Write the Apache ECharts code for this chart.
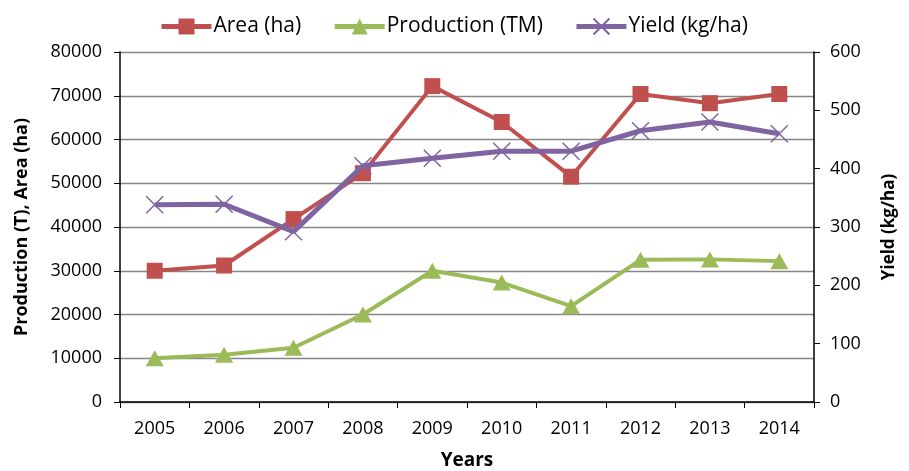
<!DOCTYPE html>
<html><head><meta charset="utf-8">
<script src="https://cdn.jsdelivr.net/npm/echarts@6/dist/echarts.min.js"></script>
<style>html,body{margin:0;padding:0;background:#fff}#c{width:909px;height:471px}</style>
</head><body><div id="c"></div>
<script>
const years = ['2005','2006','2007','2008','2009','2010','2011','2012','2013','2014'];
const area = [30000, 31200, 41800, 52300, 72200, 64000, 51500, 70400, 68300, 70400];
const production = [10000, 10800, 12400, 20000, 30000, 27300, 21900, 32500, 32600, 32200];
const yieldKg = [338, 339, 292, 405, 418, 430, 430, 465, 480, 460];

const font = '"Open Sans", Lato, sans-serif';
const chart = echarts.init(document.getElementById('c'), null, {renderer:'canvas'});
chart.setOption({
  animation: false,
  textStyle: {fontFamily: font, color: '#000'},
  legend: {
    top: 11, left: 154, itemWidth: 50, itemHeight: 20, itemGap: 31,
    lineStyle: {width: 5},
    textStyle: {fontSize: 21, fontFamily: font, color: '#000', padding: [0, 0, 0, -3]},
    data: ['Area (ha)', 'Production (TM)', 'Yield (kg/ha)']
  },
  grid: {left: 120, right: 95, top: 52, bottom: 69, outerBoundsMode: 'none', containLabel: false},
  xAxis: {
    type: 'category', data: years, boundaryGap: true,
    name: 'Years', nameLocation: 'middle', nameGap: 49,
    nameTextStyle: {fontSize: 19, fontWeight: 'bold', fontFamily: font, color: '#000'},
    axisLine: {lineStyle: {color: '#000', width: 1.5}},
    axisTick: {show: true, alignWithLabel: false, length: 6, lineStyle: {color: '#000'}},
    axisLabel: {fontSize: 18, color: '#000', margin: 18, fontFamily: font}
  },
  yAxis: [
    {
      type: 'value', min: 0, max: 80000, interval: 10000,
      name: 'Production (T), Area (ha)', nameLocation: 'middle', nameGap: 89,
      nameTextStyle: {fontSize: 18, fontWeight: 'bold', fontFamily: font, color: '#000'},
      axisLine: {show: true, lineStyle: {color: '#000', width: 1.5}},
      axisTick: {show: true, length: 6, lineStyle: {color: '#000'}},
      axisLabel: {fontSize: 18, color: '#000', margin: 18, fontFamily: font, formatter: v => String(v)},
      splitLine: {show: true, lineStyle: {color: '#868686', width: 1.3}}
    },
    {
      type: 'value', min: 0, max: 600, interval: 100, position: 'right',
      name: 'Yield (kg/ha)', nameLocation: 'middle', nameGap: 67, nameRotate: 90,
      nameTextStyle: {fontSize: 17, fontWeight: 'bold', fontFamily: font, color: '#000'},
      axisLine: {show: true, lineStyle: {color: '#000', width: 1.5}},
      axisTick: {show: true, length: 6, lineStyle: {color: '#000'}},
      axisLabel: {fontSize: 18, color: '#000', margin: 16, fontFamily: font},
      splitLine: {show: false}
    }
  ],
  series: [
    {
      name: 'Area (ha)', type: 'line', yAxisIndex: 0, data: area,
      symbol: 'rect', symbolSize: 16,
      lineStyle: {color: '#C0504D', width: 4},
      itemStyle: {color: '#C0504D'}, z: 3
    },
    {
      name: 'Production (TM)', type: 'line', yAxisIndex: 0, data: production,
      symbol: 'triangle', symbolSize: [18, 16],
      lineStyle: {color: '#9BBB59', width: 4},
      itemStyle: {color: '#9BBB59'}, z: 2
    },
    {
      name: 'Yield (kg/ha)', type: 'line', yAxisIndex: 1, data: yieldKg,
      symbol: 'path://M0,0 L10,10 M10,0 L0,10', symbolSize: 17,
      lineStyle: {color: '#8064A2', width: 5},
      itemStyle: {color: 'none', borderColor: '#8064A2', borderWidth: 1.5}, z: 4
    }
  ]
});
</script></body></html>
